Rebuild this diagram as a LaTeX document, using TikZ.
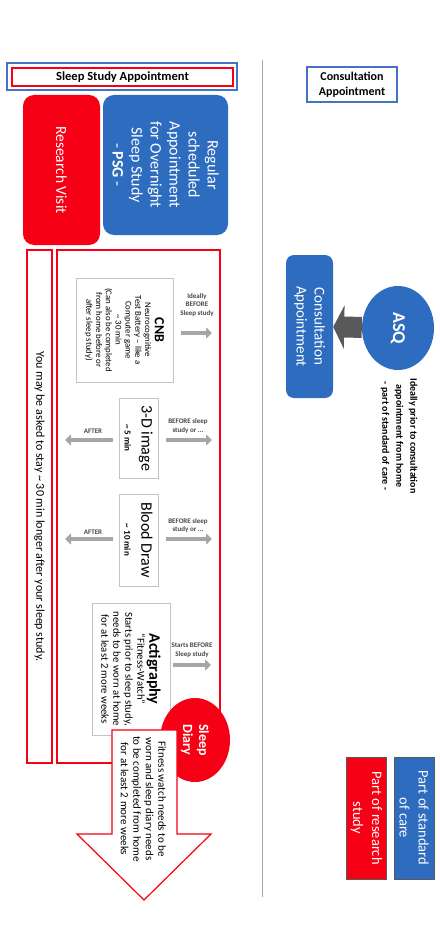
\documentclass[tikz,border=0pt]{standalone}
\usepackage{fontspec}
\setmainfont{Carlito}
\usetikzlibrary{shapes.geometric,arrows.meta}
\definecolor{careblue}{RGB}{46,108,192}
\definecolor{studyred}{RGB}{245,0,20}
\definecolor{frameblue}{RGB}{68,114,196}
\definecolor{softgray}{RGB}{166,166,166}
\definecolor{boxgray}{RGB}{195,195,195}
\definecolor{asqgray}{RGB}{89,89,89}
\begin{document}
\begin{tikzpicture}[x=1pt,y=-1pt,
  carebox/.style={rectangle, rounded corners=11pt, fill=careblue, text=white, align=center, rotate=-90, inner sep=0pt},
  researchbox/.style={rectangle, rounded corners=11pt, fill=studyred, text=white, align=center, rotate=-90, inner sep=0pt},
  legendbox/.style={rectangle, draw=asqgray, line width=0.6pt, text=white, align=center, rotate=-90, inner sep=0pt, minimum width=122pt, minimum height=40pt, font=\fontsize{14.5}{19}\selectfont},
  infobox/.style={rectangle, draw=boxgray, fill=white, line width=0.8pt, align=center, rotate=-90, inner sep=0pt},
  redframe/.style={rectangle, draw=studyred, line width=1.2pt, inner sep=0pt, rotate=-90},
  tinylabel/.style={font=\fontsize{7}{8.5}\selectfont\bfseries, text=asqgray!80!black, align=center, inner sep=0pt},
  grayarrow/.style={softgray, line width=4pt, -{Triangle[length=6pt,width=11pt]}}
]
\path[use as bounding box] (0,0) rectangle (439,941);

% headers
\node [draw=frameblue, line width=1.2pt, minimum width=230pt, minimum height=27pt, inner sep=0pt] (sleephdr) at (122,76.5) {};
\node [draw=studyred, line width=1.2pt, minimum width=221pt, minimum height=18pt, inner sep=0pt, font=\fontsize{12.5}{14}\selectfont\bfseries] (sleeptitle) at (122.5,77) {Sleep Study Appointment};
\node [draw=frameblue, line width=1.2pt, minimum width=90pt, minimum height=35pt, inner sep=0pt, align=center, font=\fontsize{12}{15}\selectfont\bfseries] (consulthdr) at (352,84.5) {Consultation\\Appointment};

% divider
\draw [gray!70, line width=1pt] (262,60) -- (262,897);

% visits
\node [researchbox, minimum width=150pt, minimum height=77pt, font=\fontsize{15.5}{18}\selectfont] (visit) at (61.5,170) {Research Visit};
\node [carebox, minimum width=140pt, minimum height=125pt, font=\fontsize{16}{19}\selectfont] (psg) at (165.5,165) {Regular\\scheduled\\Appointment\\for Overnight\\Sleep Study\\- \textbf{PSG} -};

% consultation side
\node [carebox, rounded corners=8pt, minimum width=143pt, minimum height=47pt, font=\fontsize{15}{18}\selectfont] (consult) at (309.5,326.5) {Consultation\\Appointment};
\node [ellipse, fill=careblue, text=white, rotate=-90, minimum width=84pt, minimum height=72pt, inner sep=0pt, font=\fontsize{18}{20}\selectfont\bfseries] (asq) at (398,328) {ASQ};
\draw [asqgray, line width=21pt, -{Triangle[length=11pt,width=43pt]}] (asq) -- (consult);
\node [rotate=-90, align=center, inner sep=0pt, font=\fontsize{10}{14}\selectfont\bfseries] (asqnote) at (399,436) {Ideally prior to consultation\\appointment from home\\- part of standard of care -};

% legend
\node [legendbox, fill=careblue] (carekey) at (414,818) {Part of standard\\of care};
\node [legendbox, fill=studyred] (studykey) at (366.5,818) {Part of research\\study};

% research frames
\node [redframe, minimum width=513pt, minimum height=25pt, font=\fontsize{12}{14}\selectfont] (staybox) at (39.5,506.5) {You may be asked to stay \textasciitilde{} 30 min longer after your sleep study.};
\node [redframe, minimum width=513pt, minimum height=163pt] (studybox) at (138.5,506.5) {};

% tasks
\node [infobox, minimum width=104pt, minimum height=97pt, font=\fontsize{8.8}{9.8}\selectfont] (cnb) at (124.5,330) {{\fontsize{14}{15}\selectfont\bfseries CNB}\\Neurocognitive\\Test Battery -- like a\\Computer game\\\textasciitilde{} 30 min\\(Can also be completed\\from home before or\\after sleep study)};
\node [infobox, minimum width=80pt, minimum height=39pt, font=\fontsize{16}{17}\selectfont] (scan) at (138.5,438) {3-D image\\{\fontsize{9}{10}\selectfont\bfseries \textasciitilde{} 5 min}};
\node [infobox, minimum width=92pt, minimum height=39pt, font=\fontsize{16}{17}\selectfont] (blood) at (138.5,540) {Blood Draw\\{\fontsize{9}{10}\selectfont\bfseries \textasciitilde{} 10 min}};
\node [infobox, minimum width=132pt, minimum height=78pt, font=\fontsize{10.7}{12}\selectfont] (acti) at (131,669) {{\fontsize{16}{18}\selectfont\bfseries Actigraphy}\\“Fitness-Watch”\\Starts prior to sleep study,\\needs to be worn at home\\for at least 2 more weeks};

% before / after
\node [tinylabel] (cnbbefore) at (197,305) {Ideally\\BEFORE\\Sleep study};
\draw [grayarrow] (181,333) -- (212,333);
\node [tinylabel] (scanbefore) at (188,426) {BEFORE sleep\\study or ...};
\draw [grayarrow] (166,440) -- (212,440);
\node [tinylabel] (scanafter) at (93,431) {AFTER};
\draw [grayarrow] (113,440) -- (65,440);
\node [tinylabel] (bloodbefore) at (188,525.5) {BEFORE sleep\\study or ...};
\draw [grayarrow] (166,539) -- (212,539);
\node [tinylabel] (bloodafter) at (93,532) {AFTER};
\draw [grayarrow] (113,539) -- (65,539);
\node [tinylabel] (actibefore) at (192,650) {Starts BEFORE\\Sleep study};
\draw [grayarrow] (173,665) -- (211,665);

% diary and home arrow
\node [ellipse, fill=studyred, text=white, rotate=-90, minimum width=84pt, minimum height=70pt, inner sep=0pt, align=center, font=\fontsize{14}{16}\selectfont\bfseries] (diary) at (195,740) {Sleep\\Diary};
\draw [studyred, line width=1.2pt, fill=white] (112,730) -- (177,730) -- (177,834) -- (211,834) -- (144,900) -- (77,834) -- (112,834) -- cycle;
\node [rotate=-90, align=center, inner sep=0pt, font=\fontsize{11}{12.5}\selectfont] (hometext) at (143.5,799) {Fitness watch needs to be\\worn and sleep diary needs\\to be completed from home\\for at least 2 more weeks};
\end{tikzpicture}
\end{document}
